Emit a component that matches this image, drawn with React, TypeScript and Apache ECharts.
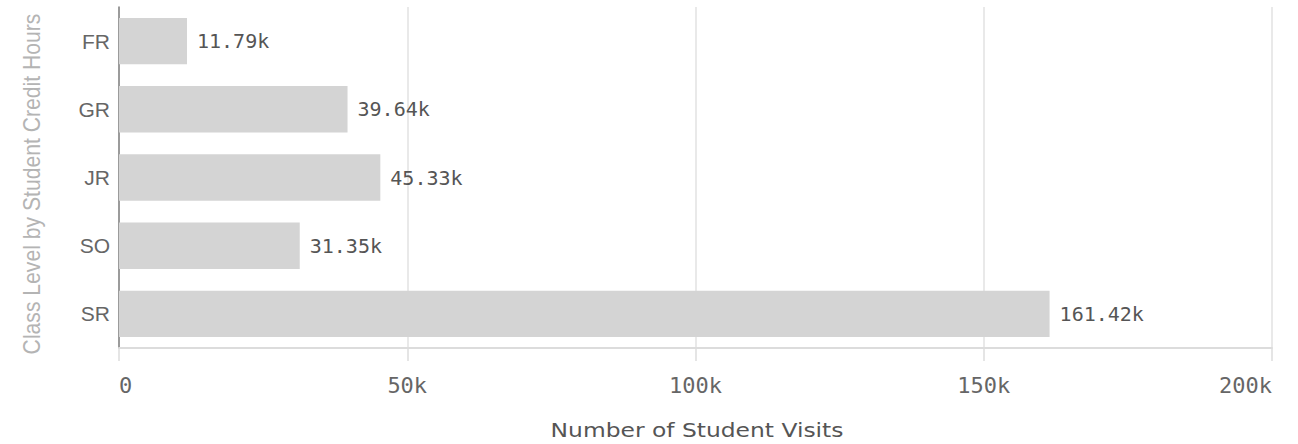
import React, { useEffect, useRef } from "react";
import * as echarts from "echarts";

const categories = ["FR", "GR", "JR", "SO", "SR"];
const visits = [11790, 39640, 45330, 31350, 161420];
const xTicks = [0, 50000, 100000, 150000, 200000];
const xTitle = "Number of Student Visits";
const yTitle = "Class Level by Student Credit Hours";

export default function App() {
  const ref = useRef<HTMLDivElement>(null);
  useEffect(() => {
    if (!ref.current) return;
    const chart = echarts.init(ref.current, undefined, { renderer: "svg" });
    chart.setOption({
      animation: false,
      backgroundColor: "#ffffff",
      grid: { left: 119, right: 26, top: 7, bottom: 96, containLabel: false },
      xAxis: {
        type: "value",
        min: xTicks[0],
        max: xTicks[xTicks.length - 1],
        interval: xTicks[1] - xTicks[0],
        axisLine: { show: true, lineStyle: { color: "#dcdcdc", width: 2 } },
        axisTick: { show: true, length: 13, lineStyle: { color: "#dcdcdc", width: 1.5 } },
        splitLine: { show: true, lineStyle: { color: "#e2e2e2", width: 1.5 } },
        axisLabel: {
          margin: 26,
          color: "#666666",
          fontFamily: "DejaVu Sans Mono",
          fontSize: 22,
          alignMinLabel: "left",
          alignMaxLabel: "right",
          padding: [0, 0, 0, 0],
          formatter: (v: number) => (v === 0 ? "0" : v / 1000 + "k"),
        },
      },
      yAxis: {
        type: "category",
        data: categories,
        inverse: true,
        axisLine: { show: true, lineStyle: { color: "#808080", width: 1.5 } },
        axisTick: { show: false },
        splitLine: { show: false },
        axisLabel: {
          margin: 9,
          color: "#666666",
          fontFamily: "Liberation Sans",
          fontSize: 21,
        },
      },
      series: [
        {
          type: "bar",
          data: visits,
          barCategoryGap: "32%",
          itemStyle: { color: "#d4d4d4" },
          label: {
            show: true,
            position: "right",
            distance: 10,
            color: "#555555",
            fontFamily: "DejaVu Sans Mono",
            fontSize: 20,
            formatter: (p: any) => (p.value / 1000).toFixed(2) + "k",
          },
        },
      ],
      graphic: [
        {
          type: "text",
          x: 697,
          y: 430,
          scaleX: 1.17,
          style: {
            text: xTitle,
            fill: "#555555",
            font: "20px 'DejaVu Sans'",
            textAlign: "center",
            textVerticalAlign: "middle",
          },
        },
        {
          type: "text",
          x: 32,
          y: 184,
          rotation: Math.PI / 2,
          scaleX: 0.92,
          style: {
            text: yTitle,
            fill: "#b4b4b4",
            font: "23px 'Liberation Sans'",
            textAlign: "center",
            textVerticalAlign: "middle",
          },
        },
      ],
    });
    return () => chart.dispose();
  }, []);
  return (
    <div
      ref={ref}
      style={{ position: "fixed", left: 0, top: 0, width: 1298, height: 444 }}
    />
  );
}
